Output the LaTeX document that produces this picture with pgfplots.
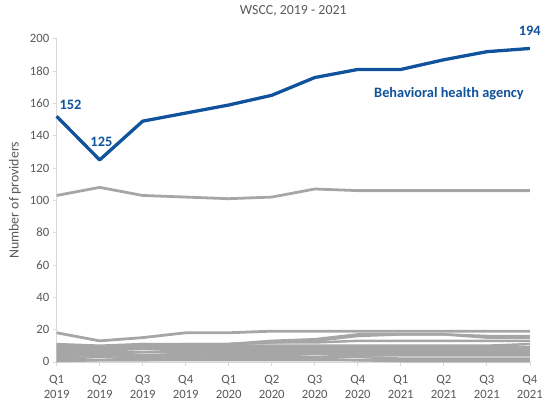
\documentclass[border=0pt]{standalone}
\usepackage{pgfplots}
\pgfplotsset{compat=1.18}
\usepackage{fontspec}
\setmainfont{Carlito}
\definecolor{bhblue}{RGB}{16,82,156}
\definecolor{lgray}{RGB}{166,166,166}
\definecolor{txtgray}{RGB}{89,89,89}
\definecolor{axgray}{RGB}{217,217,217}
\begin{document}
\begin{tikzpicture}
\path (-57bp,-40bp) rectangle (489bp,364bp);
\begin{axis}[
  at={(0,0)}, anchor=south west,
  scale only axis, width=476bp, height=325bp,
  xmin=0, xmax=11, ymin=0, ymax=200,
  clip=false,
  axis x line*=bottom, axis y line*=left,
  axis line style={axgray, line width=0.7pt},
  xtick={0,...,11},
  xticklabels={Q1\\2019,Q2\\2019,Q3\\2019,Q4\\2019,Q1\\2020,Q2\\2020,Q3\\2020,Q4\\2020,Q1\\2021,Q2\\2021,Q3\\2021,Q4\\2021},
  xticklabel style={align=center, font=\fontsize{12.8}{15}\selectfont, text=txtgray, yshift=-6bp},
  ytick={0,20,...,200},
  yticklabel style={font=\fontsize{12.8}{15}\selectfont, text=txtgray},
  /pgf/number format/assume math mode=true,
  tick style={axgray, line width=0.7pt},
  major tick length=4bp,
  tick align=outside,
  ylabel={Number of providers},
  ylabel style={font=\fontsize{14}{16}\selectfont, text=txtgray, at={(axis description cs:-0.088,0.5)}, anchor=center},
  title={WSCC, 2019 - 2021},
  title style={font=\fontsize{14}{16}\selectfont, text=txtgray, at={(axis description cs:0.5,1)}, anchor=center, yshift=22bp},
  every axis plot/.append style={line join=round},
]
% gray lines
\addplot[lgray, line width=2.8bp] coordinates {(0,103)(1,108)(2,103)(3,102)(4,101)(5,102)(6,107)(7,106)(8,106)(9,106)(10,106)(11,106)};
\addplot[lgray, line width=2.8bp] coordinates {(0,18)(1,13)(2,15)(3,18)(4,18)(5,19)(6,19)(7,19)(8,19)(9,19)(10,19)(11,19)};
\addplot[lgray, line width=2.5bp] coordinates {(0,10)(1,8)(2,10)(3,10)(4,11)(5,13)(6,14)(7,17)(8,17)(9,17)(10,15)(11,15)};
\addplot[lgray, line width=2.5bp] coordinates {(0,11)(1,10)(2,11)(3,11)(4,11)(5,12)(6,13)(7,16)(8,17)(9,17)(10,16)(11,16)};
\addplot[lgray, line width=2.5bp] coordinates {(0,10)(1,9)(2,10)(3,11)(4,11)(5,12)(6,12)(7,13)(8,13)(9,13)(10,13)(11,13)};
\addplot[lgray, line width=2.5bp] coordinates {(0,9)(1,9)(2,11)(3,10)(4,10)(5,10)(6,10)(7,10)(8,10)(9,10)(10,10)(11,11)};
\addplot[lgray, line width=2.5bp] coordinates {(0,8)(1,8)(2,9)(3,9)(4,9)(5,9)(6,9)(7,9)(8,9)(9,9)(10,9)(11,9)};
\addplot[lgray, line width=2.5bp] coordinates {(0,7)(1,7)(2,8)(3,8)(4,8)(5,8)(6,8)(7,8)(8,8)(9,8)(10,8)(11,8)};
\addplot[lgray, line width=2.5bp] coordinates {(0,6)(1,6)(2,6)(3,7)(4,7)(5,7)(6,7)(7,7)(8,7)(9,7)(10,7)(11,7)};
\addplot[lgray, line width=2.5bp] coordinates {(0,5)(1,5)(2,6)(3,6)(4,6)(5,6)(6,6)(7,6)(8,6)(9,6)(10,6)(11,6)};
\addplot[lgray, line width=2.5bp] coordinates {(0,3)(1,5)(2,3)(3,4)(4,5)(5,5)(6,5)(7,5)(8,5)(9,5)(10,5)(11,5)};
\addplot[lgray, line width=2.5bp] coordinates {(0,4)(1,4)(2,4)(3,5)(4,4)(5,4)(6,3)(7,4)(8,4)(9,4)(10,4)(11,4)};
\addplot[lgray, line width=2.5bp] coordinates {(0,2)(1,3)(2,2)(3,3)(4,3)(5,3)(6,3)(7,3)(8,2)(9,2)(10,2)(11,2)};
\addplot[lgray, line width=2.5bp] coordinates {(0,1)(1,1)(2,1)(3,2)(4,2)(5,2)(6,2)(7,1)(8,1)(9,1)(10,1)(11,1)};
\addplot[lgray, line width=2.5bp] coordinates {(0,0.5)(1,1)(2,1)(3,1)(4,1)(5,1)(6,1)(7,1)(8,0.5)(9,0.5)(10,0.5)(11,0.5)};
% behavioral health agency
\addplot[bhblue, line width=3.3bp] coordinates {(0,152)(1,125)(2,149)(3,154)(4,159)(5,165)(6,176)(7,181)(8,181)(9,187)(10,192)(11,194)};
\node[font=\fontsize{14.5}{16}\selectfont\bfseries, text=bhblue] at (axis cs:0.32,159) {152};
\node[font=\fontsize{14.5}{16}\selectfont\bfseries, text=bhblue] at (axis cs:1.04,136) {125};
\node[font=\fontsize{14.5}{16}\selectfont\bfseries, text=bhblue] at (axis cs:11.0,205) {194};
\node[font=\fontsize{14.5}{16}\selectfont\bfseries, text=bhblue] at (axis cs:9.12,166) {Behavioral health agency};
\end{axis}
\end{tikzpicture}
\end{document}
